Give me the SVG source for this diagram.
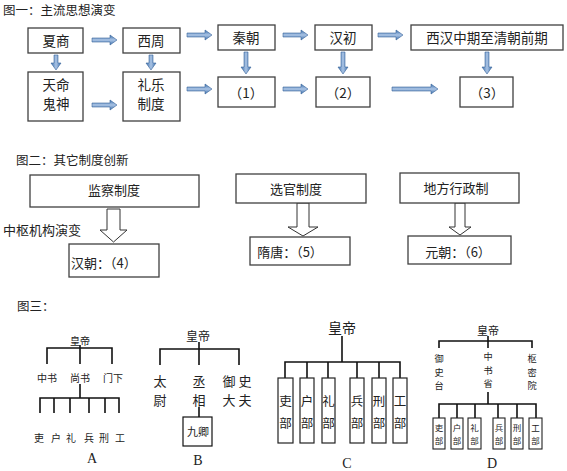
<svg xmlns="http://www.w3.org/2000/svg" width="567" height="471" viewBox="0 0 567 471">
<style>
text{font-family:"Noto Sans CJK SC","Noto Sans",sans-serif;fill:#222;}
.t1{font-size:13.5px;text-anchor:middle;dominant-baseline:central;}
.t2{font-size:13px;dominant-baseline:central;}
.ttl{font-size:12.5px;dominant-baseline:central;}
.box{fill:#fff;stroke:#404040;stroke-width:1.3;}
.hol{fill:#fff;stroke:#333;stroke-width:1;}
.ln{stroke:#111;stroke-width:1.6;fill:none;}
.s{text-anchor:middle;dominant-baseline:central;font-family:"Noto Sans CJK SC",serif;}
.lbl{font-family:"Liberation Serif",serif;font-size:14px;text-anchor:middle;dominant-baseline:central;}
.ha{fill:url(#gh);stroke:#3A679C;stroke-width:0.6;}
.va{fill:url(#gv);stroke:#3A679C;stroke-width:0.6;}
</style>
<defs>
<linearGradient id="gh" x1="0" y1="0" x2="0" y2="1">
<stop offset="0" stop-color="#3F72AE"/><stop offset="0.5" stop-color="#A9C3E4"/><stop offset="1" stop-color="#3F72AE"/>
</linearGradient>
<linearGradient id="gv" x1="0" y1="0" x2="1" y2="0">
<stop offset="0" stop-color="#3F72AE"/><stop offset="0.5" stop-color="#A9C3E4"/><stop offset="1" stop-color="#3F72AE"/>
</linearGradient>
</defs>
<rect width="567" height="471" fill="#fff"/>

<!-- Figure 1 -->
<text class="ttl" x="3" y="9">图一：主流思想演变</text>
<g id="n-xiashang"><rect class="box" x="28" y="28" width="55" height="25"/><text class="t1" x="56" y="40">夏商</text></g>
<g id="n-xizhou"><rect class="box" x="123" y="28" width="57" height="25"/><text class="t1" x="151" y="40">西周</text></g>
<g id="n-qin"><rect class="box" x="218" y="25" width="57" height="25"/><text class="t1" x="246" y="37">秦朝</text></g>
<g id="n-hanchu"><rect class="box" x="315" y="25" width="57" height="25"/><text class="t1" x="343" y="37">汉初</text></g>
<g id="n-xihan"><rect class="box" x="411" y="25" width="152" height="25"/><text class="t1" x="487" y="37">西汉中期至清朝前期</text></g>
<g id="n-tianming"><rect class="box" x="28" y="72" width="55" height="49"/><text class="t1" x="56" y="84">天命</text><text class="t1" x="56" y="103">鬼神</text></g>
<g id="n-liyue"><rect class="box" x="123" y="72" width="57" height="49"/><text class="t1" x="151" y="84">礼乐</text><text class="t1" x="151" y="103">制度</text></g>
<g id="n-1"><rect class="box" x="218" y="77" width="57" height="30"/><text class="t1" x="246" y="92">（1）</text></g>
<g id="n-2"><rect class="box" x="316" y="77" width="54" height="30"/><text class="t1" x="343" y="92">（2）</text></g>
<g id="n-3"><rect class="box" x="460" y="77" width="53" height="30"/><text class="t1" x="487" y="92">（3）</text></g>

<g id="connectors">
<path class="ha" d="M92,38 H110 V35 L117,40 L110,45 V42 H92 Z"/>
<path class="ha" d="M187,33 H205 V30 L212,35 L205,40 V37 H187 Z"/>
<path class="ha" d="M283,33 H301 V30 L308,35 L301,40 V37 H283 Z"/>
<path class="ha" d="M378,33 H396 V30 L403,35 L396,40 V37 H378 Z"/>
<path class="ha" d="M92,103 H110 V100 L117,105 L110,110 V107 H92 Z"/>
<path class="ha" d="M187,87 H205 V84 L212,89 L205,94 V91 H187 Z"/>
<path class="ha" d="M283,87 H301 V84 L308,89 L301,94 V91 H283 Z"/>
<path class="ha" d="M392,87 H431 V84 L438,89 L431,94 V91 H392 Z"/>
<path class="va" d="M54,55 V63 H51 L56,70 L61,63 H58 V55 Z"/>
<path class="va" d="M149,55 V63 H146 L151,70 L156,63 H153 V55 Z"/>
<path class="va" d="M244,52 V67 H241 L246,74 L251,67 H248 V52 Z"/>
<path class="va" d="M341,52 V67 H338 L343,74 L348,67 H345 V52 Z"/>
<path class="va" d="M485,52 V67 H482 L487,74 L492,67 H489 V52 Z"/>
<!-- Figure 2 hollow arrows -->
<path class="hol" d="M107,209 H120 V230 H127 L113.5,242 L100,230 H107 Z"/>
<path class="hol" d="M297,203 H309 V227 H318 L303,236 L288,227 H297 Z"/>
<path class="hol" d="M455,203 H465 V227 H471 L460,235 L449,227 H455 Z"/>
</g>

<!-- Figure 2 -->
<text class="ttl" x="16" y="159">图二：其它制度创新</text>
<g id="n-jiancha"><rect class="box" x="30" y="175" width="169" height="32"/><text class="t1" x="114" y="189" style="font-size:13px">监察制度</text></g>
<text class="t2" x="3" y="229">中枢机构演变</text>
<g id="n-4"><rect class="box" x="69" y="244" width="90" height="33"/><text class="t2" x="71" y="262">汉朝：（4）</text></g>
<g id="n-xuanguan"><rect class="box" x="236" y="174" width="130" height="29"/><text class="t1" x="296" y="188" style="font-size:13px">选官制度</text></g>
<g id="n-5"><rect class="box" x="250" y="237" width="100" height="28"/><text class="t1" x="290" y="251" style="font-size:13px">隋唐：（5）</text></g>
<g id="n-difang"><rect class="box" x="400" y="173" width="119" height="30"/><text class="t1" x="456" y="187" style="font-size:13px">地方行政制</text></g>
<g id="n-6"><rect class="box" x="408" y="236" width="103" height="28"/><text class="t1" x="458" y="251" style="font-size:13px">元朝：（6）</text></g>

<!-- Figure 3 -->
<text class="ttl" x="17" y="305">图三：</text>

<g id="fig-A">
<text class="s" x="80" y="340" font-size="10">皇帝</text>
<path class="ln" d="M80,345 V364 M47,364 V348 H112 V364"/>
<text class="s" x="47" y="377" font-size="10">中书</text>
<text class="s" x="80" y="377" font-size="10">尚书</text>
<text class="s" x="113" y="377" font-size="10">门下</text>
<path class="ln" d="M80,384 V398 M40,413 V398 H119 V413 M54,398 V413 M70,398 V413 M89,398 V413 M105,398 V413"/>
<text class="s" x="39" y="437" font-size="10">吏</text>
<text class="s" x="56" y="437" font-size="10">户</text>
<text class="s" x="71" y="437" font-size="10">礼</text>
<text class="s" x="89" y="437" font-size="10">兵</text>
<text class="s" x="104" y="437" font-size="10">刑</text>
<text class="s" x="120" y="437" font-size="10">工</text>
<text class="lbl" x="92" y="458">A</text>
</g>

<g id="fig-B">
<text class="s" x="198" y="335" font-size="12">皇帝</text>
<path class="ln" d="M199,342 V365 M160,365 V349 H239 V365"/>
<text class="s" x="160" y="380" font-size="13">太</text>
<text class="s" x="160" y="399" font-size="13">尉</text>
<text class="s" x="199" y="380" font-size="13">丞</text>
<text class="s" x="199" y="399" font-size="13">相</text>
<text class="s" x="229" y="380" font-size="13">御</text>
<text class="s" x="229" y="399" font-size="13">大</text>
<text class="s" x="245" y="380" font-size="13">史</text>
<text class="s" x="245" y="399" font-size="13">夫</text>
<path class="ln" d="M199,407 V417"/>
<rect x="183" y="417" width="29" height="29" fill="#fff" stroke="#111" stroke-width="1.2"/>
<text class="s" x="198" y="431" font-size="11">九卿</text>
<text class="lbl" x="198" y="460">B</text>
</g>

<g id="fig-C">
<text class="s" x="342" y="327" font-size="14">皇帝</text>
<path class="ln" d="M342,336 V362 M285,378 V362 H400 V378 M307,362 V378 M328,362 V378 M357,362 V378 M379,362 V378"/>
<g fill="#fff" stroke="#222" stroke-width="1.2">
<rect x="278" y="378" width="15" height="65"/>
<rect x="300" y="378" width="14" height="65"/>
<rect x="322" y="378" width="13" height="65"/>
<rect x="350" y="378" width="14" height="65"/>
<rect x="372" y="378" width="14" height="65"/>
<rect x="393" y="378" width="14" height="65"/>
</g>
<text class="s" x="285.5" y="400" font-size="12.5">吏</text><text class="s" x="285.5" y="422" font-size="12.5">部</text>
<text class="s" x="307" y="400" font-size="12.5">户</text><text class="s" x="307" y="422" font-size="12.5">部</text>
<text class="s" x="328.5" y="400" font-size="12.5">礼</text><text class="s" x="328.5" y="422" font-size="12.5">部</text>
<text class="s" x="357" y="400" font-size="12.5">兵</text><text class="s" x="357" y="422" font-size="12.5">部</text>
<text class="s" x="379" y="400" font-size="12.5">刑</text><text class="s" x="379" y="422" font-size="12.5">部</text>
<text class="s" x="400" y="400" font-size="12.5">工</text><text class="s" x="400" y="422" font-size="12.5">部</text>
<text class="lbl" x="347" y="463">C</text>
</g>

<g id="fig-D">
<text class="s" x="488" y="330" font-size="11">皇帝</text>
<path class="ln" d="M488,336 V348 M439,348 V341 H532 V348"/>
<text class="s" font-size="9.2"><tspan x="439" y="358">御</tspan><tspan x="439" y="371.5">史</tspan><tspan x="439" y="385">台</tspan></text>
<text class="s" font-size="9.2"><tspan x="488" y="356">中</tspan><tspan x="488" y="369.5">书</tspan><tspan x="488" y="383">省</tspan></text>
<text class="s" font-size="9.2"><tspan x="532" y="358">枢</tspan><tspan x="532" y="371.5">密</tspan><tspan x="532" y="385">院</tspan></text>
<path class="ln" d="M488,392 V404 M439,418 V404 H536 V418 M457,404 V418 M475,404 V418 M498,404 V418 M517,404 V418"/>
<g fill="#fff" stroke="#222" stroke-width="1.1">
<rect x="433" y="418" width="12" height="31"/>
<rect x="451" y="418" width="12" height="31"/>
<rect x="468" y="418" width="13" height="31"/>
<rect x="493" y="418" width="12" height="31"/>
<rect x="511" y="418" width="12" height="31"/>
<rect x="529" y="418" width="13" height="31"/>
</g>
<text class="s" font-size="8.5"><tspan x="439" y="427">吏</tspan><tspan x="439" y="440">部</tspan></text>
<text class="s" font-size="8.5"><tspan x="457" y="427">户</tspan><tspan x="457" y="440">部</tspan></text>
<text class="s" font-size="8.5"><tspan x="474.5" y="427">礼</tspan><tspan x="474.5" y="440">部</tspan></text>
<text class="s" font-size="8.5"><tspan x="499" y="427">兵</tspan><tspan x="499" y="440">部</tspan></text>
<text class="s" font-size="8.5"><tspan x="517" y="427">刑</tspan><tspan x="517" y="440">部</tspan></text>
<text class="s" font-size="8.5"><tspan x="535.5" y="427">工</tspan><tspan x="535.5" y="440">部</tspan></text>
<text class="lbl" x="492" y="463">D</text>
</g>
</svg>
